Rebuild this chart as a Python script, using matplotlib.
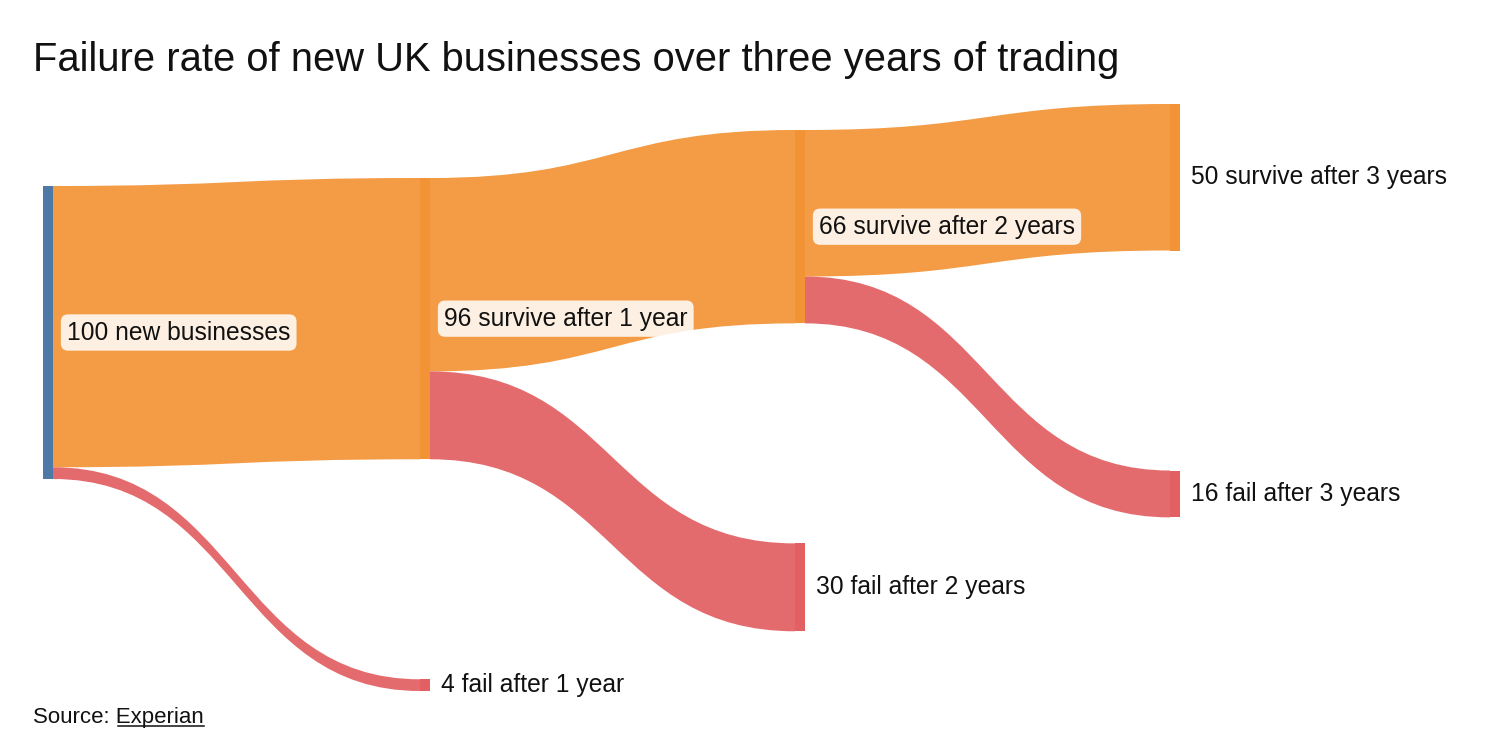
import numpy as np
import matplotlib
matplotlib.use("Agg")
import matplotlib.pyplot as plt
from matplotlib.path import Path
from matplotlib.patches import PathPatch, Rectangle

plt.rcParams['font.family'] = ['Liberation Sans', 'DejaVu Sans']

# Sankey data
node_labels = ["100 new businesses", "96 survive after 1 year", "4 fail after 1 year",
               "66 survive after 2 years", "30 fail after 2 years",
               "50 survive after 3 years", "16 fail after 3 years"]
node_column = [0, 1, 1, 2, 2, 3, 3]
node_kind = ["start", "survive", "fail", "survive", "fail", "survive", "fail"]

link_source = [0, 0, 1, 1, 3, 3]
link_target = [1, 2, 3, 4, 5, 6]
link_value = [96, 4, 66, 30, 50, 16]

title = "Failure rate of new UK businesses over three years of trading"
source_text = "Source: "
source_link = "Experian"

# layout (pixels)
W, H = 1500, 750
col_x = [43, 420, 795, 1170]
col_top = [186, 178, 130, 104]
node_w = 10
node_pad = 220
px_per_unit = 2.93

node_colors = {"start": "#4e79a7", "survive": "#f28e2b", "fail": "#e15759"}
link_colors = {"survive": "#f28e2b", "fail": "#e15759"}

fig = plt.figure(figsize=(15, 7.5), dpi=100)
ax = fig.add_axes([0, 0, 1, 1])
ax.set_xlim(0, W)
ax.set_ylim(H, 0)
ax.axis("off")

n = len(node_labels)
val_in = np.zeros(n)
val_out = np.zeros(n)
for s, t, v in zip(link_source, link_target, link_value):
    val_out[s] += v
    val_in[t] += v
node_val = np.maximum(val_in, val_out)

# node positions
node_y0 = np.zeros(n)
for c in range(len(col_x)):
    y = col_top[c]
    for i in range(n):
        if node_column[i] == c:
            node_y0[i] = y
            y += node_val[i] * px_per_unit + node_pad
node_x0 = np.array([col_x[c] for c in node_column], dtype=float)
node_h = node_val * px_per_unit

# links
out_off = node_y0.copy()
in_off = node_y0.copy()
for s, t, v in zip(link_source, link_target, link_value):
    h = v * px_per_unit
    x0 = node_x0[s] + node_w
    x1 = node_x0[t]
    y0 = out_off[s]
    y1 = in_off[t]
    out_off[s] += h
    in_off[t] += h
    xm = (x0 + x1) / 2
    verts = [(x0, y0), (xm, y0), (xm, y1), (x1, y1),
             (x1, y1 + h),
             (xm, y1 + h), (xm, y0 + h), (x0, y0 + h),
             (x0, y0)]
    codes = [Path.MOVETO, Path.CURVE4, Path.CURVE4, Path.CURVE4,
             Path.LINETO,
             Path.CURVE4, Path.CURVE4, Path.CURVE4,
             Path.CLOSEPOLY]
    ax.add_patch(PathPatch(Path(verts, codes), facecolor=link_colors[node_kind[t]],
                           edgecolor="none", alpha=0.88, zorder=1))

# nodes and labels
for i in range(n):
    ax.add_patch(Rectangle((node_x0[i], node_y0[i]), node_w, node_h[i],
                           facecolor=node_colors[node_kind[i]], edgecolor="none",
                           alpha=0.95 if node_kind[i] != "start" else 1, zorder=2))
    yc = node_y0[i] + node_h[i] / 2
    if val_out[i] > 0:
        ax.text(node_x0[i] + node_w + 14, yc, node_labels[i], fontsize=17.7,
                color="#111111", va="center", ha="left", zorder=3,
                bbox=dict(boxstyle="round,pad=0.25,rounding_size=0.3",
                          facecolor="white", alpha=0.85, edgecolor="none"))
    else:
        ax.text(node_x0[i] + node_w + 11, yc, node_labels[i], fontsize=17.7,
                color="#111111", va="center", ha="left", zorder=3)

ax.text(33, 60, title, fontsize=28.7, color="#111111", va="center", ha="left")

st = ax.text(33, 718, source_text + source_link, fontsize=16, color="#111111",
             va="center", ha="left")
probe = ax.text(33, 718, source_text, fontsize=16, va="center", ha="left")
fig.canvas.draw()
r = fig.canvas.get_renderer()
inv = ax.transData.inverted()
bb_all = st.get_window_extent(r)
bb_pre = probe.get_window_extent(r)
probe.remove()
(xa, ya), (xb, yb) = inv.transform([[bb_pre.x1, bb_all.y0], [bb_all.x1, bb_all.y0]])
ax.plot([xa + 2, xb], [ya - 3, yb - 3], color="#111111", lw=1.1)

fig.savefig("out.png", dpi=100)
